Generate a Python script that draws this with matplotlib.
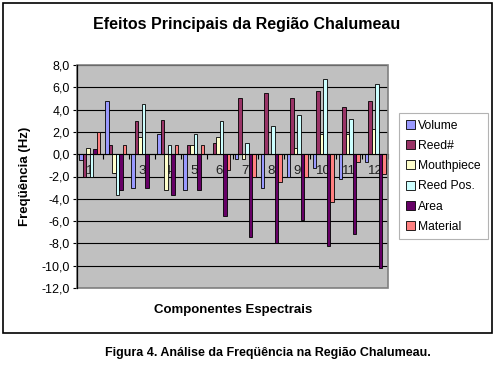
import matplotlib
matplotlib.use("Agg")
import matplotlib.pyplot as plt
import numpy as np
from matplotlib.patches import Rectangle
from matplotlib.ticker import FuncFormatter, FixedLocator

plt.rcParams['font.family'] = ['Liberation Sans', 'DejaVu Sans']

categories = ["1", "2", "3", "4", "5", "6", "7", "8", "9", "10", "11", "12"]
series_names = ["Volume", "Reed#", "Mouthpiece", "Reed Pos.", "Area", "Material"]
volume     = [-0.5,  4.8, -3.0,  1.8, -3.2,  0.0, -0.45, -3.0, -2.0, -1.25, -2.25, -0.7]
reed_num   = [-2.0,  0.8,  3.0,  3.1,  0.8,  1.0,  5.0,   5.5,  5.0,  5.65,  4.2,   4.75]
mouthpiece = [ 0.55, -1.7, 1.5, -3.2,  0.8,  1.5, -0.45,  0.0,  0.55, 1.8,   1.8,   2.25]
reed_pos   = [-2.0, -3.7,  4.5,  0.8,  1.8,  3.0,  1.0,   2.5,  3.5,  6.7,   3.15,  6.3]
area       = [ 0.5, -3.2, -3.0, -3.7, -3.2, -5.5, -7.45, -8.0, -5.9, -8.2,  -7.2,  -10.25]
material   = [ 2.0,  0.8,  0.0,  0.8,  0.8, -1.45, -2.0, -2.5, -2.0, -4.25, -0.7,  -1.75]
series_values = [volume, reed_num, mouthpiece, reed_pos, area, material]
colors = ["#9999FF", "#993366", "#FFFFCC", "#CCFFFF", "#660066", "#FF8080"]
yticks = [8, 6, 4, 2, 0, -2, -4, -6, -8, -10, -12]

W, H = 494, 366
fig = plt.figure(figsize=(W / 100, H / 100), dpi=100)
fig.patch.set_facecolor("white")

# chart area border
fig.add_artist(Rectangle((3 / W, (H - 333) / H), (492 - 3) / W, (333 - 3) / H,
                         transform=fig.transFigure, fill=False, edgecolor="black",
                         linewidth=1.2))

ax = fig.add_axes([77 / W, (H - 288) / H, 311 / W, 223 / H])
ax.set_facecolor("#C0C0C0")

x = np.arange(len(categories))
n = len(series_names)
bw = 0.135
for i, (name, vals, c) in enumerate(zip(series_names, series_values, colors)):
    offs = (i - (n - 1) / 2) * bw
    ax.bar(x + offs, vals, width=bw, color=c, edgecolor="black", linewidth=0.6,
           label=name, zorder=3)

ax.set_xlim(-0.5, len(categories) - 0.5)
ax.set_ylim(-12, 8)
ax.set_yticks(yticks)
ax.yaxis.set_major_formatter(FuncFormatter(lambda v, p: f"{v:.1f}".replace(".", ",")))
ax.yaxis.grid(True, color="black", linewidth=0.8, zorder=1)
ax.set_axisbelow(True)
ax.tick_params(axis="y", direction="out", length=3, width=0.8, labelsize=9, pad=2)

ax.spines["bottom"].set_position(("data", 0))
ax.spines["bottom"].set_zorder(4)
ax.spines["top"].set_visible(False)
ax.spines["right"].set_visible(False)
ax.spines["left"].set_linewidth(0.9)
ax.set_xticks(x)
ax.set_xticklabels(categories)
ax.xaxis.set_minor_locator(FixedLocator(np.arange(-0.5, len(categories), 1.0)))
ax.tick_params(axis="x", which="major", length=0, labelsize=9.5, pad=8, labelcolor="#202020")
ax.tick_params(axis="x", which="minor", direction="out", length=3.5, width=0.8)

ax.add_patch(Rectangle((0, 0), 1, 1, transform=ax.transAxes, fill=False,
                       edgecolor="#808080", linewidth=1.2, zorder=5, clip_on=False))
ax.spines["left"].set_zorder(6)

fig.text(247 / W, (H - 24) / H, "Efeitos Principais da Região Chalumeau",
         ha="center", va="center", fontsize=11.5, fontweight="bold")
fig.text(233 / W, (H - 310) / H, "Componentes Espectrais",
         ha="center", va="center", fontsize=9.5, fontweight="bold")
fig.text(25 / W, (H - 176) / H, "Freqüência (Hz)", rotation=90,
         ha="center", va="center", fontsize=9.5, fontweight="bold")
fig.text(268 / W, (H - 353) / H, "Figura 4. Análise da Freqüência na Região Chalumeau.",
         ha="center", va="center", fontsize=9, fontweight="bold")

leg = fig.legend(loc="upper left", bbox_to_anchor=(399 / W, (H - 113) / H),
                 frameon=True, fancybox=False, fontsize=8.7, handlelength=0.75,
                 handleheight=0.75, handletextpad=0.3, labelspacing=0.68,
                 borderpad=0.55, borderaxespad=0)
leg.get_frame().set_edgecolor("#A0A0A0")
leg.get_frame().set_linewidth(0.8)
for h in leg.legend_handles:
    h.set_linewidth(0.6)
    h.set_edgecolor("black")

fig.savefig("out.png", dpi=100)
